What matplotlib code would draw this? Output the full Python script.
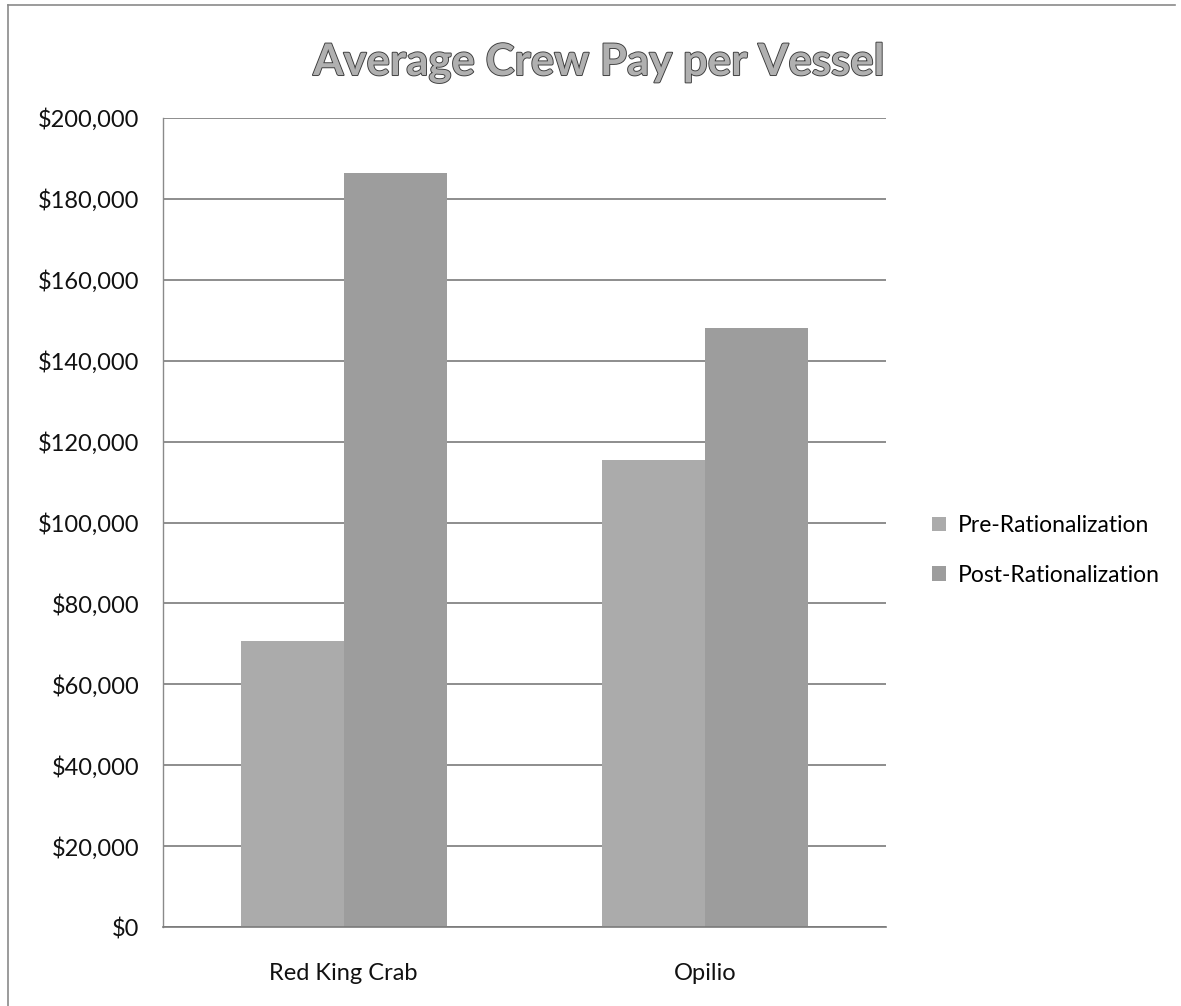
import numpy as np
import matplotlib.pyplot as plt
import matplotlib.patheffects as pe
from matplotlib.ticker import FuncFormatter, MultipleLocator

# crew pay per vessel, dollars
fisheries = ["Red King Crab", "Opilio"]
pre_rationalization = [70700, 115400]
post_rationalization = [186400, 148100]
series_names = ["Pre-Rationalization", "Post-Rationalization"]
series_colors = ["#ababab", "#9d9d9d"]

plt.rcParams['font.family'] = ['Lato', 'DejaVu Sans']

fig = plt.figure(figsize=(11.81, 10.06), dpi=100)
ax = fig.add_axes([0.138, 0.0785, 0.612, 0.8042])

x = np.arange(len(fisheries))
width = 0.285
ax.bar(x - width / 2, pre_rationalization, width, color=series_colors[0],
       label=series_names[0], zorder=2)
ax.bar(x + width / 2, post_rationalization, width, color=series_colors[1],
       label=series_names[1], zorder=2)

ax.set_xlim(-0.5, 1.5)
ax.set_ylim(0, 200000)
ax.yaxis.set_major_locator(MultipleLocator(20000))
ax.yaxis.set_major_formatter(FuncFormatter(lambda v, p: f"${v:,.0f}"))
ax.set_xticks(x)
ax.set_xticklabels(fisheries)
ax.tick_params(axis='both', length=0, labelsize=17, colors='#111111')
ax.tick_params(axis='x', pad=26)
ax.tick_params(axis='y', pad=17)

ax.grid(axis='y', color='#7a7a7a', linewidth=1.2, zorder=0)
for side in ['top', 'right']:
    ax.spines[side].set_visible(False)
ax.spines['left'].set_color('#8a8a8a')
ax.spines['left'].set_linewidth(1.0)
ax.spines['bottom'].set_color('#7a7a7a')
ax.spines['bottom'].set_linewidth(1.2)

leg = fig.legend(loc='center left', bbox_to_anchor=(0.772, 0.453), frameon=False,
                 fontsize=16.5, handlelength=0.6, handleheight=0.6,
                 handletextpad=0.5, labelspacing=1.25)

title = fig.text(0.507, 0.938, "Average Crew Pay per Vessel", ha='center', va='center',
                 fontsize=31.5, fontweight='bold', color='#b0b0b0')
title.set_path_effects([pe.Stroke(linewidth=1.3, foreground='#3a3a3a'), pe.Normal()])

# page frame lines along the top and left edge
fig.add_artist(plt.Line2D([0.007, 0.995], [0.995, 0.995], color='#8a8a8a', linewidth=1.2))
fig.add_artist(plt.Line2D([0.007, 0.007], [0.0, 0.995], color='#8a8a8a', linewidth=1.2))

fig.savefig("out.png", dpi=100)
